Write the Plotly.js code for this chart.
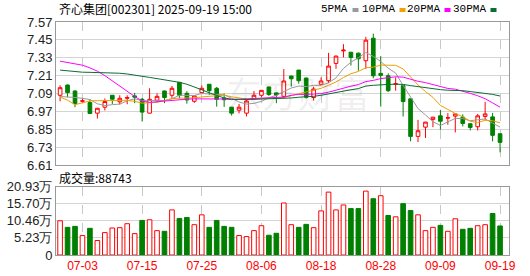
<!DOCTYPE html>
<html><head><meta charset="utf-8">
<script src="https://cdn.plot.ly/plotly-3.0.1.min.js"></script>
<style>html,body{margin:0;padding:0;background:#fff}#chart{width:530px;height:276px}</style>
</head><body><div id="chart"></div>
<script>
const stockTitle = '齐心集团[002301] 2025-09-19 15:00';
const volLabel = '成交量';
const watermark = '东方财富';

const dates = ['06-30','07-01','07-02','07-03','07-04','07-07','07-08','07-09','07-10','07-11',
'07-14','07-15','07-16','07-17','07-18','07-21','07-22','07-23','07-24','07-25',
'07-28','07-29','07-30','07-31','08-01','08-04','08-05','08-06','08-07','08-08',
'08-11','08-12','08-13','08-14','08-15','08-18','08-19','08-20','08-21','08-22',
'08-25','08-26','08-27','08-28','08-29','09-01','09-02','09-03','09-04','09-05',
'09-08','09-09','09-10','09-11','09-12','09-15','09-16','09-17','09-18','09-19'];

const open = [7.078,7.147,7.107,7.038,7.029,6.958,6.998,7.078,7.034,7.058,
7.074,7.051,6.958,7.045,7.107,7.078,7.165,7.091,7.038,7.096,
7.152,7.125,7.060,6.998,6.978,6.958,7.056,7.078,7.134,7.094,
7.071,7.207,7.247,7.194,7.063,7.152,7.176,7.292,7.376,7.367,
7.361,7.310,7.461,7.225,7.209,7.152,7.143,7.054,6.802,6.864,
6.916,6.940,6.925,6.938,6.931,6.887,6.867,6.936,6.933,6.820];
const high = [7.145,7.150,7.110,7.056,7.051,6.993,7.056,7.080,7.078,7.078,
7.094,7.060,7.125,7.091,7.109,7.140,7.167,7.105,7.076,7.145,
7.154,7.134,7.090,7.000,7.020,7.051,7.107,7.113,7.136,7.096,
7.254,7.209,7.249,7.196,7.136,7.198,7.363,7.345,7.421,7.369,
7.365,7.470,7.492,7.341,7.225,7.198,7.145,7.056,6.913,6.900,
6.933,6.980,6.958,6.955,6.950,6.890,6.953,7.034,6.960,6.822];
const low = [7.038,7.065,6.998,7.025,6.954,6.922,6.976,7.020,7.016,7.018,
7.025,6.902,6.956,7.029,7.025,7.056,7.056,7.022,7.027,7.094,
7.080,7.002,7.000,6.942,6.956,6.936,7.047,7.065,7.074,7.025,
7.056,7.136,7.156,7.056,7.042,7.148,7.160,7.256,7.332,7.278,
7.243,7.256,7.192,7.002,7.100,7.109,6.936,6.769,6.764,6.791,
6.864,6.847,6.880,6.829,6.869,6.842,6.842,6.913,6.769,6.695];
const close = [7.129,7.096,7.022,7.041,6.956,6.991,7.036,7.052,7.058,7.062,
7.066,6.965,7.051,7.071,7.063,7.125,7.078,7.047,7.074,7.125,
7.109,7.051,7.048,6.958,6.998,7.040,7.078,7.111,7.083,7.080,
7.174,7.189,7.176,7.065,7.120,7.174,7.274,7.341,7.381,7.332,
7.323,7.448,7.209,7.212,7.109,7.156,7.036,6.802,6.840,6.898,
6.931,6.904,6.927,6.953,6.889,6.862,6.940,6.953,6.809,6.762];

const volume = [104600,84500,87500,59400,81500,44300,68400,82500,83500,95600,
65400,105600,107600,74400,72400,137800,111700,114700,92600,122700,
84500,105600,87500,84500,59400,56300,74400,89500,60400,66400,
158900,92600,84500,93600,83500,134800,192100,137800,152900,141800,
141800,195200,172000,181100,120700,116700,156900,135800,122700,74400,
84500,90500,72400,110700,78500,81500,89500,92600,126800,88743];

const ma5 = [7.070,7.068,7.063,7.058,7.049,7.021,7.009,7.015,7.019,7.040,
7.055,7.041,7.040,7.043,7.043,7.055,7.078,7.077,7.077,7.090,
7.087,7.081,7.081,7.058,7.033,7.019,7.024,7.037,7.062,7.078,
7.105,7.127,7.140,7.137,7.145,7.145,7.162,7.195,7.258,7.300,
7.330,7.365,7.339,7.305,7.260,7.227,7.144,7.063,6.989,6.946,
6.901,6.875,6.900,6.923,6.921,6.907,6.914,6.919,6.891,6.865];
const ma10 = [7.066,7.045,7.015,7.030,7.040,7.042,7.043,7.044,7.045,7.044,
7.038,7.025,7.028,7.031,7.042,7.055,7.059,7.059,7.060,7.067,
7.071,7.079,7.079,7.068,7.061,7.053,7.053,7.059,7.060,7.056,
7.062,7.076,7.089,7.099,7.112,7.125,7.145,7.168,7.197,7.223,
7.238,7.263,7.267,7.281,7.280,7.279,7.255,7.201,7.147,7.103,
7.064,7.010,6.982,6.956,6.934,6.904,6.895,6.910,6.907,6.893];
const ma20 = [7.307,7.298,7.290,7.280,7.262,7.240,7.210,7.175,7.140,7.103,
7.070,7.040,7.030,7.035,7.040,7.045,7.050,7.052,7.054,7.055,
7.054,7.052,7.053,7.049,7.051,7.054,7.056,7.059,7.060,7.061,
7.066,7.078,7.084,7.084,7.086,7.089,7.099,7.113,7.129,7.139,
7.150,7.170,7.178,7.190,7.196,7.202,7.200,7.184,7.172,7.163,
7.151,7.137,7.124,7.119,7.107,7.091,7.075,7.055,7.027,6.998];
const ma30 = [7.247,7.242,7.236,7.233,7.232,7.231,7.230,7.229,7.226,7.221,
7.215,7.208,7.198,7.190,7.182,7.174,7.165,7.152,7.135,7.115,
7.095,7.075,7.060,7.052,7.050,7.050,7.051,7.052,7.054,7.055,
7.057,7.060,7.065,7.066,7.071,7.078,7.086,7.095,7.106,7.115,
7.123,7.140,7.145,7.150,7.151,7.152,7.151,7.143,7.135,7.127,
7.121,7.116,7.112,7.112,7.109,7.103,7.098,7.093,7.084,7.073];

const maNames = ['5PMA','10PMA','20PMA','30PMA'];
const maSeries = [ma5, ma10, ma20, ma30];
const priceTicks = [6.61,6.73,6.85,6.97,7.09,7.21,7.33,7.45,7.57];
const volTicks = [0,52300,104600,157000,209300];
const volTickText = ['0','5.23万','10.46万','15.70万','20.93万'];
const xTickDates = ['07-03','07-15','07-25','08-06','08-18','08-28','09-09','09-19'];

// ---- styling / layout ----
const RED = '#ff0000', GREEN = '#008000';
const maColors = ['#999999','#f0a000','#ff00ff','#0a6e32'];
const GRID = '#d4d4d4', FRAME = '#999999';
const L = 56, R = 509, T = 22, B = 255, W = R - L, H = B - T;
const px = x => (x - L) / W;
const py = y => (B - y) / H;

const idx = dates.map((d, i) => i);
const tickIdx = xTickDates.map(d => dates.indexOf(d));
const volUp = close.map((c, i) => i === 0 ? c >= open[i] : c >= close[i - 1]);

const traces = [];
traces.push({
  type: 'candlestick', x: idx, open: open, high: high, low: low, close: close,
  xaxis: 'x', yaxis: 'y', hoverinfo: 'skip', whiskerwidth: 0,
  increasing: {line: {color: RED, width: 1}, fillcolor: '#ffffff'},
  decreasing: {line: {color: GREEN, width: 1}, fillcolor: GREEN}
});
maSeries.forEach((s, k) => traces.push({
  type: 'scatter', mode: 'lines', x: idx, y: s, xaxis: 'x', yaxis: 'y',
  line: {color: maColors[k], width: 1}, hoverinfo: 'skip', name: maNames[k]
}));
traces.push({
  type: 'bar', x: idx, y: volume, xaxis: 'x2', yaxis: 'y2', width: 0.62,
  marker: {color: volUp.map(u => u ? '#ffffff' : GREEN),
           line: {color: volUp.map(u => u ? RED : GREEN), width: 1}},
  hoverinfo: 'skip'
});

const xRange = [-0.55, 60.2];
const tickFont = {family: 'Liberation Sans, Arial, sans-serif', size: 13, color: '#222'};
const commonX = {
  range: xRange, tickvals: tickIdx, ticktext: xTickDates, showgrid: true,
  gridcolor: '#c8c8c8', griddash: 'dash', gridwidth: 1, zeroline: false,
  showline: true, mirror: true, linecolor: FRAME, linewidth: 1, ticks: '',
  fixedrange: true
};
const layout = {
  width: 530, height: 276,
  margin: {l: L, r: 530 - R, t: T, b: 276 - B, pad: 0},
  paper_bgcolor: '#ffffff', plot_bgcolor: '#ffffff',
  showlegend: false, bargap: 0,
  xaxis: Object.assign({}, commonX, {anchor: 'y', showticklabels: false,
    rangeslider: {visible: false}}),
  xaxis2: Object.assign({}, commonX, {anchor: 'y2', showticklabels: true,
    tickfont: {family: 'Liberation Sans, Arial, sans-serif', size: 12, color: RED}}),
  yaxis: {domain: [py(165), 1], range: [priceTicks[0], priceTicks[priceTicks.length - 1]],
    tickvals: priceTicks, ticktext: priceTicks.map(v => v.toFixed(2)),
    showgrid: true, gridcolor: GRID, zeroline: false, showline: true, mirror: true,
    linecolor: FRAME, ticks: '', tickfont: tickFont, fixedrange: true},
  yaxis2: {domain: [0, py(186.5)], range: [0, volTicks[volTicks.length - 1]],
    tickvals: volTicks, ticktext: volTickText,
    showgrid: true, gridcolor: GRID, zeroline: false, showline: true, mirror: true,
    linecolor: FRAME, ticks: '', tickfont: tickFont, fixedrange: true},
  annotations: [], shapes: []
};

layout.annotations.push({
  xref: 'paper', yref: 'paper', x: px(57), y: py(9), xanchor: 'left', yanchor: 'middle',
  text: stockTitle, showarrow: false,
  font: {family: 'Noto Sans CJK SC, sans-serif', size: 12, color: '#000'}
});
layout.annotations.push({
  xref: 'paper', yref: 'paper', x: px(57), y: py(177.5), xanchor: 'left', yanchor: 'middle',
  text: volLabel + ':' + volume[volume.length - 1], showarrow: false,
  font: {family: 'Noto Sans CJK SC, sans-serif', size: 12, color: '#000'}
});
layout.annotations.push({
  xref: 'paper', yref: 'paper', x: px(298), y: py(92), xanchor: 'center', yanchor: 'middle',
  text: watermark, showarrow: false,
  font: {family: 'Noto Sans CJK SC, sans-serif', size: 36, color: 'rgba(0,0,0,0.07)'}
});
const legEnds = [350, 397, 442, 488];
maNames.forEach((n, k) => {
  layout.annotations.push({
    xref: 'paper', yref: 'paper', x: px(legEnds[k]), y: py(9.5), xanchor: 'right', yanchor: 'middle',
    text: n, showarrow: false,
    font: {family: 'Liberation Mono, monospace', size: 11, color: '#000'}
  });
  layout.shapes.push({
    type: 'rect', xref: 'paper', yref: 'paper',
    x0: px(legEnds[k] + 2.5), x1: px(legEnds[k] + 8.5), y0: py(12), y1: py(8),
    fillcolor: maColors[k], line: {width: 0}
  });
});

Plotly.newPlot('chart', traces, layout, {displayModeBar: false, staticPlot: true});
</script>
</body></html>
